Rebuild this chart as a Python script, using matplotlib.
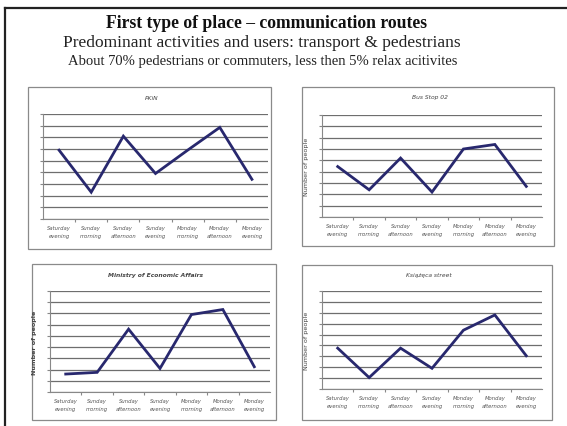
import matplotlib
matplotlib.use("Agg")
import matplotlib.pyplot as plt
from matplotlib.patches import Rectangle
from matplotlib.lines import Line2D

W, H = 567, 427

categories = ["Saturday\nevening", "Sunday\nmorning", "Sunday\nafternoon", "Sunday\nevening",
              "Monday\nmorning", "Monday\nafternoon", "Monday\nevening"]

pkin_values = [5.9, 2.3, 7.1, 3.9, 5.9, 7.85, 3.4]
busstop_values = [4.45, 2.4, 5.2, 2.2, 6.0, 6.4, 2.7]
ministry_values = [1.6, 1.75, 5.6, 2.1, 6.9, 7.35, 2.25]
ksiazeca_values = [3.75, 1.05, 3.75, 1.9, 5.4, 6.8, 3.05]

panel_titles = ["PKiN", "Bus Stop 02", "Ministry of Economic Affairs", "Książęca street"]

title = "First type of place – communication routes"
subtitle = "Predominant activities and users: transport & pedestrians"
subtitle2 = "About 70% pedestrians or commuters, less then 5% relax acitivites"

fig = plt.figure(figsize=(W / 100, H / 100), dpi=100)
fig.patch.set_facecolor("white")

def fx(x):
    return x / W

def fy(y):
    return 1 - y / H

# slide frame (top and left edges only)
fig.add_artist(Line2D([fx(5), fx(567)], [fy(9), fy(9)], color="#222222", lw=1.6))
fig.add_artist(Line2D([fx(5), fx(5)], [fy(9), fy(427)], color="#222222", lw=1.6))

fig.text(fx(266), fy(24), title, ha="center", va="center", fontsize=12.7,
         fontweight="bold", family="Liberation Serif", color="#111111")
fig.text(fx(262), fy(43), subtitle, ha="center", va="center", fontsize=12.5,
         family="Liberation Serif", color="#222222")
fig.text(fx(263), fy(62), subtitle2, ha="center", va="center", fontsize=10.5,
         family="Liberation Serif", color="#222222")

panels = [
    # panel box (x0, y0, x1, y1), plot area (x0, y0, x1, y1), values, title, ylabel style
    ((28, 88, 271, 250), (43, 115, 268, 220), pkin_values, panel_titles[0], None),
    ((302, 88, 554, 247), (322, 116, 542, 218), busstop_values, panel_titles[1], "normal"),
    ((32, 265, 276, 421), (50, 292, 270, 393), ministry_values, panel_titles[2], "bold"),
    ((302, 266, 552, 421), (322, 292, 542, 390), ksiazeca_values, panel_titles[3], "normal"),
]

for box, area, vals, ttl, ylab in panels:
    bx0, by0, bx1, by1 = box
    fig.add_artist(Rectangle((fx(bx0), fy(by1)), fx(bx1 - bx0), (by1 - by0) / H,
                             transform=fig.transFigure, facecolor="white",
                             edgecolor="#8a8a8a", lw=0.9, zorder=-1))
    ax0, ay0, ax1, ay1 = area
    ax = fig.add_axes([fx(ax0), fy(ay1), fx(ax1 - ax0), (ay1 - ay0) / H])
    ax.set_zorder(2)
    ax.patch.set_alpha(0)
    xs = list(range(len(categories)))
    ax.plot(xs, vals, color="#28286e", lw=2.0, solid_joinstyle="miter")
    ax.set_xlim(-0.5, len(categories) - 0.5)
    ax.set_ylim(0, 9)
    ax.set_yticks(range(0, 10))
    ax.set_yticklabels([])
    ax.yaxis.grid(True, color="#6e6e6e", lw=0.9)
    ax.set_axisbelow(True)
    ax.set_xticks([i + 0.5 for i in range(len(categories) - 1)])
    ax.set_xticklabels([])
    ax.set_xticks(xs, minor=True)
    ax.set_xticklabels(categories, minor=True, fontsize=3.8, style="italic",
                       color="#555555", linespacing=1.8)
    ax.tick_params(axis="x", which="minor", length=0, pad=4)
    ax.tick_params(axis="x", which="major", length=2, color="#888888", direction="out")
    ax.tick_params(axis="y", length=2, color="#888888", direction="out")
    for s in ["top", "right"]:
        ax.spines[s].set_visible(False)
    ax.spines["left"].set_color("#888888")
    ax.spines["bottom"].set_color("#888888")
    ax.spines["left"].set_linewidth(0.8)
    ax.spines["bottom"].set_linewidth(0.8)
    fig.text(fx((bx0 + bx1) / 2 + 2), fy(by0 + 10), ttl, ha="center", va="center",
             fontsize=4.3, style="italic", color="#444444",
             fontweight="bold" if ylab == "bold" else "normal")
    if ylab:
        ax.set_ylabel("Number of people", fontsize=4.6, color="#444444",
                      fontweight=ylab, labelpad=4)

fig.savefig("out.png", dpi=100)
